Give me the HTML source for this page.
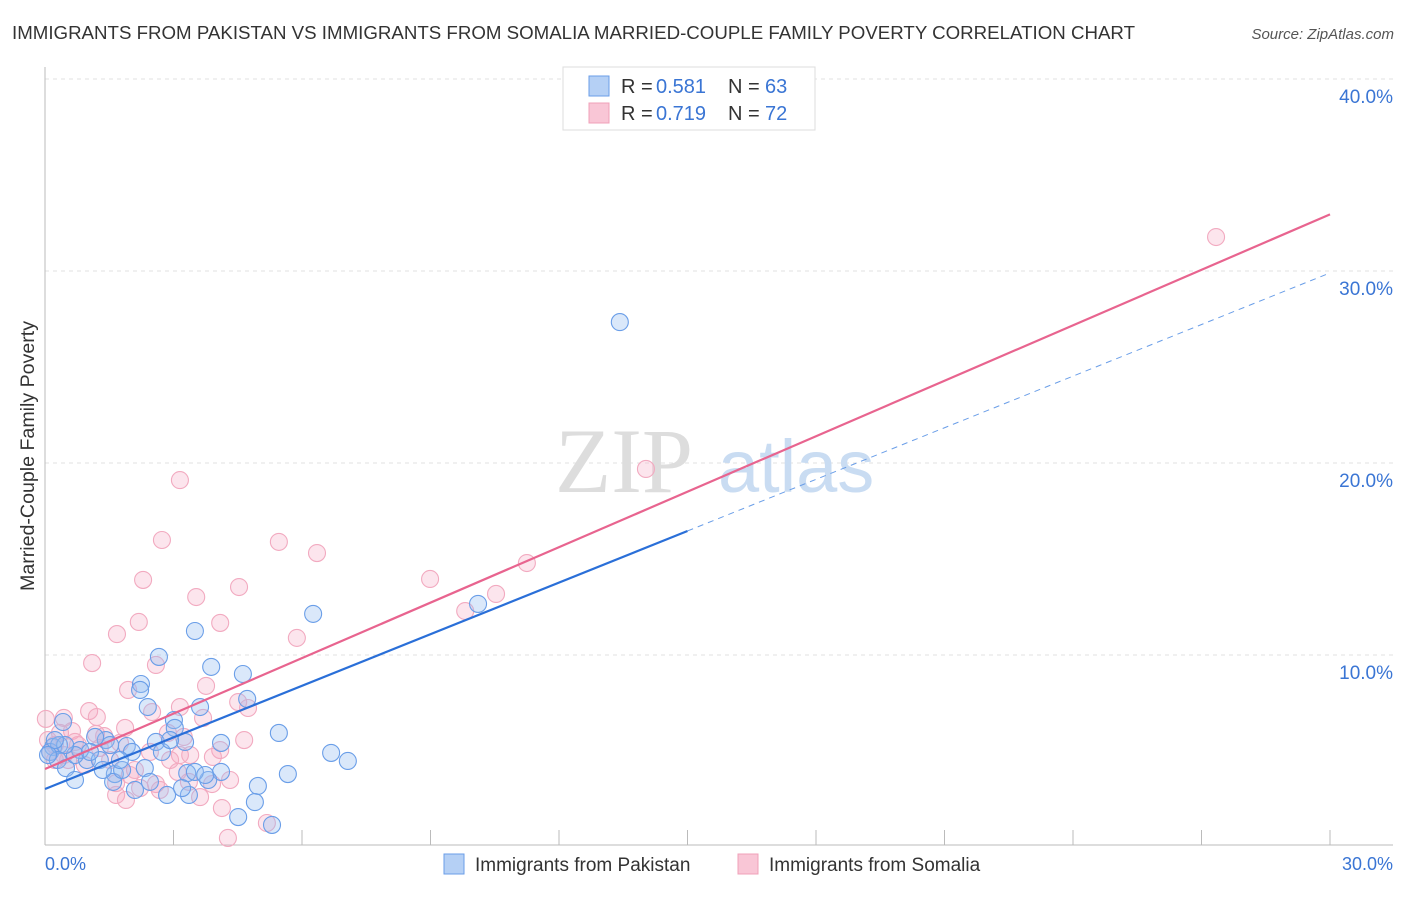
<!DOCTYPE html>
<html><head><meta charset="utf-8"><style>
body{margin:0;background:#fff;font-family:"Liberation Sans",sans-serif;}
svg text{font-family:"Liberation Sans",sans-serif;}
</style></head><body>
<svg width="1406" height="892">
<text x="12" y="39" font-size="18" fill="#333" textLength="1123" lengthAdjust="spacingAndGlyphs">IMMIGRANTS FROM PAKISTAN VS IMMIGRANTS FROM SOMALIA MARRIED-COUPLE FAMILY POVERTY CORRELATION CHART</text>
<text x="1394" y="39" font-size="15" fill="#555" font-style="italic" text-anchor="end">Source: ZipAtlas.com</text>
<g id="grid"></g>
<text x="555" y="492" font-size="92" fill="#ddd" font-family="Liberation Serif" style="font-family:'Liberation Serif',serif">ZIP</text>
<text x="718" y="492" font-size="74" fill="#c9dcf2">atlas</text>
<line x1="45" y1="67" x2="45" y2="845" stroke="#bbb"/>
<line x1="45" y1="845" x2="1393" y2="845" stroke="#bbb"/>
<g id="ticks"></g>
<g id="pts"></g>
<g id="lines"></g>
<text x="34" y="456" font-size="19" fill="#333" transform="rotate(-90 34 456)" text-anchor="middle" textLength="270" lengthAdjust="spacingAndGlyphs">Married-Couple Family Poverty</text>
<text x="45" y="870" font-size="18" fill="#3a75d4">0.0%</text>
<text x="1393" y="870" font-size="18" fill="#3a75d4" text-anchor="end">30.0%</text>
<g>
<rect x="563" y="67" width="252" height="63" fill="#fff" stroke="#ddd"/>
<rect x="589" y="76" width="20" height="20" fill="#b5d0f5" stroke="#6a9ee8"/>
<rect x="589" y="103" width="20" height="20" fill="#f9c6d6" stroke="#f0a0b8"/>
<text x="621" y="93" font-size="20" fill="#333">R =</text>
<text x="656" y="93" font-size="20" fill="#3a75d4">0.581</text>
<text x="728" y="93" font-size="20" fill="#333">N =</text>
<text x="765" y="93" font-size="20" fill="#3a75d4">63</text>
<text x="621" y="120" font-size="20" fill="#333">R =</text>
<text x="656" y="120" font-size="20" fill="#3a75d4">0.719</text>
<text x="728" y="120" font-size="20" fill="#333">N =</text>
<text x="765" y="120" font-size="20" fill="#3a75d4">72</text>
</g>
<g>
<rect x="444" y="854" width="20" height="20" fill="#b5d0f5" stroke="#6a9ee8"/>
<text x="475" y="871" font-size="19" fill="#333">Immigrants from Pakistan</text>
<rect x="738" y="854" width="20" height="20" fill="#f9c6d6" stroke="#f0a0b8"/>
<text x="769" y="871" font-size="19" fill="#333">Immigrants from Somalia</text>
</g>
</svg>
<script>
const yTicks=[10,20,30,40];
const yTickLabels=["10.0%","20.0%","30.0%","40.0%"];
const xTicks=[3,6,9,12,15,18,21,24,27,30];
const pakX=[13.42,10.11,6.26,3.50,2.66,3.88,4.62,2.24,3.62,2.40,3.01,4.72,5.46,6.68,7.07,5.67,4.97,4.90,4.51,5.30,4.11,4.11,3.81,3.32,3.36,2.85,3.20,2.59,2.73,1.91,2.03,1.42,1.17,0.42,0.19,0.12,0.33,0.30,0.49,0.70,0.98,1.28,1.63,1.59,1.80,2.10,2.33,2.45,1.75,3.50,3.27,3.03,0.82,1.35,0.70,0.47,0.23,0.07,1.52,2.92,2.22,3.74,1.05];
const pakY=[27.34,12.66,12.14,11.25,9.90,9.38,9.01,8.49,7.29,7.29,6.61,7.71,5.94,4.90,4.48,3.80,3.18,2.34,1.56,1.15,5.42,3.91,3.49,3.85,2.71,2.71,3.07,5.47,4.95,5.26,4.95,5.57,5.73,6.51,5.21,4.95,5.31,4.53,4.11,3.49,4.53,4.53,3.80,3.39,4.01,2.97,4.11,3.39,4.53,3.91,5.47,6.20,5.05,4.01,4.79,5.31,5.57,4.79,5.31,5.57,8.18,3.75,4.95];
const somX=[27.34,14.03,3.15,11.25,5.46,6.35,2.73,8.99,2.29,4.53,10.53,9.81,3.53,2.19,4.09,1.68,5.88,1.10,2.59,3.76,1.94,2.50,3.69,4.51,4.74,0.02,1.03,1.21,0.44,0.63,1.87,1.19,1.38,1.75,2.87,3.24,4.09,3.92,3.15,2.92,2.45,2.59,3.10,3.36,3.62,3.90,4.13,4.27,5.18,1.66,1.89,2.22,1.98,1.66,0.44,0.23,0.07,0.12,0.77,0.93,1.52,0.54,3.39,2.68,4.32,0.23,1.28,2.10,3.15,4.65,0.35,0.70];
const somY=[31.77,19.69,19.11,14.79,15.89,15.31,15.99,13.96,13.91,13.54,13.18,12.29,13.02,11.72,11.67,11.09,10.89,9.58,9.48,8.39,8.18,7.03,6.72,7.55,7.24,6.67,7.08,6.77,6.72,6.04,6.20,5.89,5.78,5.42,5.94,5.73,5.05,4.69,4.79,4.53,4.95,3.28,3.91,3.39,2.60,3.28,2.03,0.47,1.25,2.71,2.45,3.07,3.75,3.33,4.79,5.31,5.57,4.95,5.31,4.27,4.53,4.53,4.79,2.97,3.49,4.53,5.16,4.01,7.29,5.57,5.94,5.47];
const pakTrend=[3.02,0.896];
const somTrend=[4.06,0.963];
const X=v=>45+v/30*1285, Y=v=>847-v*19.2;
const NS="http://www.w3.org/2000/svg";
function mk(tag,attrs,parent){const e=document.createElementNS(NS,tag);for(const k in attrs)e.setAttribute(k,attrs[k]);document.getElementById(parent).appendChild(e);return e;}
yTicks.forEach((t,i)=>{
 const l=mk('line',{x1:45,x2:1393,y1:Y(t),y2:Y(t),stroke:'#e2e2e2','stroke-dasharray':'4,4'},'grid');
 
 
 const tx=mk('text',{x:1393,y:Y(t)+24,'font-size':19,fill:'#3a75d4','text-anchor':'end'},'grid');
 tx.textContent=yTickLabels[i];
 
 
});
xTicks.forEach(t=>{
 const l=mk('line',{x1:X(t),x2:X(t),y1:830,y2:845,stroke:'#bbb'},'ticks');
 
 
});
somX.forEach((v,i)=>{
 const c=mk('circle',{cx:X(v),cy:Y(somY[i]),r:8.5,fill:'rgba(245,170,195,0.3)',stroke:'#f2aac0','stroke-width':1.1},'pts');
 
 
});
pakX.forEach((v,i)=>{
 const c=mk('circle',{cx:X(v),cy:Y(pakY[i]),r:8.5,fill:'rgba(150,190,240,0.35)',stroke:'#6a9ee8','stroke-width':1.1},'pts');
 
 
});
const f=(tr,x)=>tr[0]+tr[1]*x;
let l1=mk('line',{x1:X(0),y1:Y(f(somTrend,0)),x2:X(30),y2:Y(f(somTrend,30)),stroke:'#e8648f','stroke-width':2.2},'lines');


let l2=mk('line',{x1:X(0),y1:Y(f(pakTrend,0)),x2:X(15),y2:Y(f(pakTrend,15)),stroke:'#2a6fd8','stroke-width':2.2},'lines');


let l3=mk('line',{x1:X(15),y1:Y(f(pakTrend,15)),x2:X(30),y2:Y(f(pakTrend,30)),stroke:'#6a9ee8','stroke-width':1,'stroke-dasharray':'6,5'},'lines');


</script>
</body></html>
